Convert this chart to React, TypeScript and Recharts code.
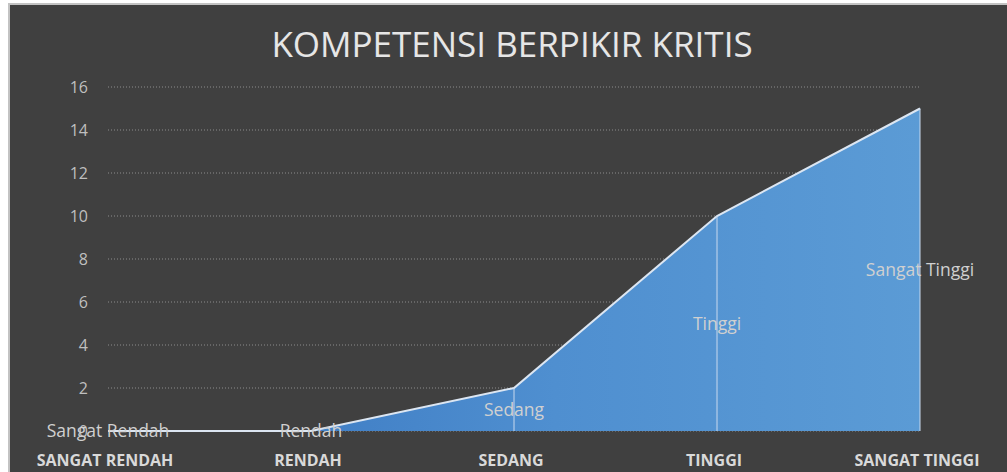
import { AreaChart, Area, XAxis, YAxis, CartesianGrid } from 'recharts';

const categories = ['SANGAT RENDAH', 'RENDAH', 'SEDANG', 'TINGGI', 'SANGAT TINGGI'];
const pointLabels = ['Sangat Rendah', 'Rendah', 'Sedang', 'Tinggi', 'Sangat Tinggi'];
const values = [0, 0, 2, 10, 15];
const yTicks = [0, 2, 4, 6, 8, 10, 12, 14, 16];

const data = categories.map((name, i) => ({ name, value: values[i], label: pointLabels[i] }));

const FONT = '"Open Sans", sans-serif';
const TOP = 87;
const BOTTOM = 431;

function DropLine(props: any) {
  const { cx, cy, index } = props;
  if (cx == null || cy == null || values[index] === 0) return <g key={index} />;
  return <line key={index} x1={cx} y1={cy} x2={cx} y2={BOTTOM} stroke="#c9d9ee" strokeWidth={1} />;
}

function PointLabel(props: any) {
  const { x, y, index } = props;
  const mid = (y + BOTTOM) / 2;
  return (
    <text x={x} y={mid} dy={6} textAnchor="middle" fill="#d0d0d0" fontSize={17.5} fontFamily={FONT}>
      {pointLabels[index]}
    </text>
  );
}

function CatTick({ x, y, payload }: any) {
  return (
    <text x={x - 3} y={y + 27} textAnchor="middle" fill="#d9d9d9" fontSize={16} fontWeight="bold" fontFamily={FONT}>
      {payload.value}
    </text>
  );
}

export default function App() {
  return (
    <div style={{ position: 'absolute', left: 0, top: 0, width: 1007, height: 472, background: '#fff' }}>
      <div style={{ position: 'absolute', left: 8, top: 3, width: 999, height: 469, background: '#c3c3c3' }} />
      <div style={{ position: 'absolute', left: 10, top: 5, width: 997, height: 467, background: '#404040' }} />
      <div
        style={{
          position: 'absolute',
          left: 0,
          top: 23,
          width: 1024,
          textAlign: 'center',
          color: '#e6e6e6',
          fontFamily: FONT,
          fontSize: 35,
          lineHeight: '42px',
        }}
      >
        KOMPETENSI BERPIKIR KRITIS
      </div>
      <div style={{ position: 'absolute', left: 0, top: 0 }}>
        <AreaChart width={1007} height={472} data={data} margin={{ top: TOP, right: 87, left: 0, bottom: 0 }}>
          <defs>
            <linearGradient id="fillBlue" x1="0" y1="0" x2="1" y2="0">
              <stop offset="0%" stopColor="#3572bd" />
              <stop offset="55%" stopColor="#4f8fd0" />
              <stop offset="100%" stopColor="#5b9bd5" />
            </linearGradient>
          </defs>
          <CartesianGrid vertical={false} stroke="#8c8c8c" strokeDasharray="1 2" />
          <XAxis
            dataKey="name"
            height={472 - BOTTOM}
            axisLine={false}
            tickLine={false}
            tick={<CatTick />}
            interval={0}
          />
          <YAxis
            width={108}
            domain={[0, 16]}
            ticks={yTicks}
            axisLine={false}
            tickLine={false}
            tick={{ fill: '#bfbfbf', fontSize: 16, fontFamily: FONT }}
            tickMargin={14}
          />
          <Area
            type="linear"
            dataKey="value"
            stroke="#dce6f2"
            strokeWidth={2}
            fill="url(#fillBlue)"
            fillOpacity={1}
            dot={<DropLine />}
            activeDot={false}
            label={<PointLabel />}
            isAnimationActive={false}
          />
        </AreaChart>
      </div>
    </div>
  );
}
